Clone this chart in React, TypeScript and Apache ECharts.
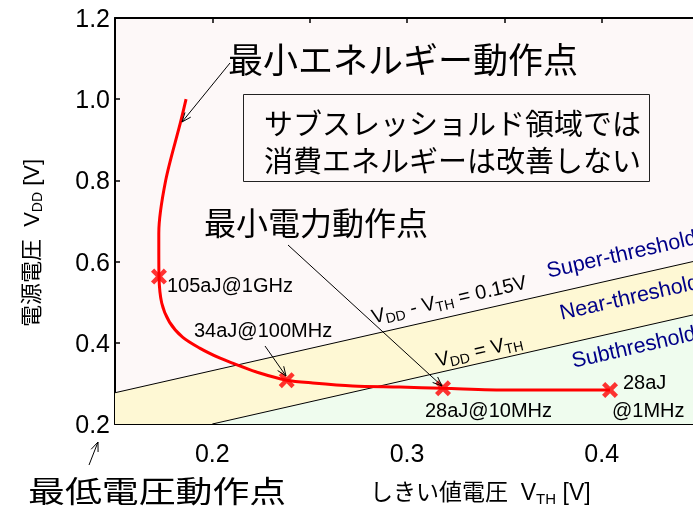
import React, { useEffect, useRef } from 'react';
import * as echarts from 'echarts';

// ---- data ----
const curveVTH = [0.1865, 0.1837, 0.176, 0.1725, 0.1725, 0.1726, 0.174, 0.178, 0.1847, 0.1935, 0.2037, 0.2104, 0.2243, 0.2382, 0.2516, 0.2721, 0.2963, 0.3185, 0.3544, 0.4043];
const curveVDD = [1.0, 0.944, 0.799, 0.67, 0.629, 0.563, 0.498, 0.451, 0.414, 0.387, 0.3626, 0.35, 0.3256, 0.308, 0.301, 0.2936, 0.291, 0.288, 0.2837, 0.2837];
const pointVTH = [0.1726, 0.2382, 0.3185, 0.4043];
const pointVDD = [0.563, 0.308, 0.288, 0.2837];
// region boundaries (V_DD - V_TH = 0.15V line and V_DD = V_TH line as drawn)
const superBoundaryVTH = [0.15, 0.45];
const superBoundaryVDD = [0.277, 0.6035];
const subBoundaryVTH = [0.2, 0.45];
const subBoundaryVDD = [0.2, 0.472];
const xTickMin = 0.15;
const xTickMax = 0.45;
const xTickStep = 0.05;
const yTickMin = 0.2;
const yTickMax = 1.2;
const yTickStep = 0.2;

const LATIN = "'Liberation Sans', Arial, 'Noto Sans CJK JP', sans-serif";
const JP = "'Noto Sans CJK JP', sans-serif";

const RED = '#ff0000';
const NAVY = '#000088';
const PINK = '#fdf8f8';
const YELLOW = '#fef8d4';
const GREEN = '#effcee';

const X_SYMBOL = 'path://M0,2L2,0L5,3L8,0L10,2L7,5L10,8L8,10L5,7L2,10L0,8L3,5Z';

function arrow(x1: number, y1: number, x2: number, y2: number) {
  const a = Math.atan2(y2 - y1, x2 - x1);
  const L = 10;
  const w = 0.38;
  const p1 = [x2 - L * Math.cos(a - w), y2 - L * Math.sin(a - w)];
  const p2 = [x2 - L * Math.cos(a + w), y2 - L * Math.sin(a + w)];
  return [
    { type: 'line', z: 100, silent: true, shape: { x1, y1, x2, y2 }, style: { stroke: '#000', lineWidth: 1 } },
    { type: 'polyline', z: 100, silent: true, shape: { points: [p1, [x2, y2], p2] }, style: { stroke: '#000', lineWidth: 1, fill: null } },
  ];
}

function txt(text: string, x: number, y: number, fontSize: number, family: string, extra: any = {}) {
  const { rotation, scaleX, fill, align, rich, lineHeight } = extra;
  return {
    type: 'text',
    z: 100,
    silent: true,
    x,
    y,
    rotation: rotation || 0,
    scaleX: scaleX || 1,
    style: {
      text,
      x: 0,
      y: 0,
      fontSize,
      fontFamily: family,
      fill: fill || '#000',
      align: align || 'left',
      textAlign: align || 'left',
      verticalAlign: 'middle',
      textVerticalAlign: 'middle',
      lineHeight,
      rich,
    },
  };
}

function subRich(base: number, sub: number, color = '#000', family = LATIN) {
  return {
    n: { fontSize: base, fontFamily: family, lineHeight: base + 4, fill: color, color },
    s: { fontSize: sub, fontFamily: family, lineHeight: sub, verticalAlign: 'bottom', fill: color, color },
  };
}

export default function App() {
  const ref = useRef<HTMLDivElement>(null);

  useEffect(() => {
    if (!ref.current) return;
    const chart = echarts.init(ref.current, undefined, { renderer: 'svg' });

    const curve = curveVTH.map((x, i) => [x, curveVDD[i]]);
    const points = pointVTH.map((x, i) => [x, pointVDD[i]]);
    const superLine = superBoundaryVTH.map((x, i) => [x, superBoundaryVDD[i]]);
    const subLine = subBoundaryVTH.map((x, i) => [x, subBoundaryVDD[i]]);
    const nearRegion = [
      [xTickMin, yTickMin],
      ...superLine,
      ...subLine.slice().reverse(),
    ];
    const subRegion = [...subLine, [xTickMax, yTickMin]];

    const regionSeries = (pts: number[][], color: string) => ({
      type: 'custom',
      coordinateSystem: 'cartesian2d',
      silent: true,
      z: 1,
      data: [[0.3, 0.5]],
      renderItem: (_p: any, api: any) => ({
        type: 'polygon',
        shape: { points: pts.map((p) => api.coord(p)) },
        style: { fill: color, stroke: null },
      }),
    });

    const xLabelFmt = (v: number) => {
      const t = v * 10;
      return Math.abs(t - Math.round(t)) < 1e-6 ? v.toFixed(1) : '';
    };

    const axisCommon = {
      type: 'value',
      axisLine: { show: true, onZero: false, lineStyle: { color: '#000', width: 2 } },
      axisTick: { show: true, inside: true, length: 5, lineStyle: { color: '#000', width: 1.5 } },
      splitLine: { show: false },
    };

    const rot = (12.8 * Math.PI) / 180;

    const graphics: any[] = [
      txt('最小エネルギー動作点', 228, 57, 35, JP),
      ...arrow(230, 63, 182, 122),
      {
        type: 'rect',
        z: 100,
        silent: true,
        shape: { x: 243.5, y: 94.5, width: 406, height: 87 },
        style: { fill: 'none', stroke: '#222', lineWidth: 1 },
      },
      txt('サブスレッショルド領域では\n消費エネルギーは改善しない', 264, 140.5, 29, JP, { lineHeight: 37 }),
      txt('最小電力動作点', 204, 221, 32, JP),
      ...arrow(288, 245, 442, 386),
      txt('105aJ@1GHz', 167, 285, 20, LATIN),
      txt('34aJ@100MHz', 194, 330, 20, LATIN),
      ...arrow(265, 346, 286, 376),
      txt('28aJ@10MHz', 425, 410, 20, LATIN),
      txt('28aJ', 623, 382, 20, LATIN),
      txt('@1MHz', 612, 410, 20, LATIN),
      txt('{n|V}{s|DD}{n| - V}{s|TH}{n| = 0.15V}', 449, 299, 20, LATIN, {
        align: 'center',
        rotation: rot,
        rich: subRich(20, 14),
      }),
      txt('{n|V}{s|DD}{n| = V}{s|TH}', 479, 350, 20, LATIN, {
        align: 'center',
        rotation: rot,
        rich: subRich(20, 14),
      }),
      txt('Super-threshold', 547, 271, 21.5, LATIN, { fill: NAVY, rotation: rot }),
      txt('Near-threshold', 560, 313, 21.5, LATIN, { fill: NAVY, rotation: rot }),
      txt('Subthreshold', 572, 361, 21.5, LATIN, { fill: NAVY, rotation: rot }),
      txt('最低電圧動作点', 28, 489, 30, JP, { scaleX: 1.23, lineHeight: 30 }),
      ...arrow(89, 465, 98, 442),
      txt('{n|しきい値電圧  V}{s|TH}{n| [V]}', 370, 492, 23, LATIN, { rich: subRich(23, 15) }),
      txt('{n|電源電圧  V}{s|DD}{n| [V]}', 31, 243, 22, LATIN, {
        align: 'center',
        rotation: Math.PI / 2,
        rich: subRich(22, 14),
      }),
    ];

    chart.setOption({
      animation: false,
      grid: {
        show: true,
        left: 115,
        top: 18,
        width: 584,
        height: 406,
        backgroundColor: PINK,
        borderWidth: 0,
        containLabel: false,
        outerBoundsMode: 'none',
      },
      xAxis: [
        {
          ...axisCommon,
          position: 'bottom',
          min: xTickMin,
          max: xTickMax,
          interval: xTickStep,
          axisLabel: {
            show: true,
            margin: 16,
            fontSize: 25,
            fontFamily: LATIN,
            color: '#000',
            formatter: xLabelFmt,
          },
        },
        {
          ...axisCommon,
          position: 'top',
          min: xTickMin,
          max: xTickMax,
          interval: xTickStep,
          axisLabel: { show: false },
        },
      ],
      yAxis: [
        {
          ...axisCommon,
          position: 'left',
          min: yTickMin,
          max: yTickMax,
          interval: yTickStep,
          axisLabel: {
            show: true,
            margin: 5,
            fontSize: 25,
            fontFamily: LATIN,
            color: '#000',
            formatter: (v: number) => v.toFixed(1),
          },
        },
      ],
      series: [
        regionSeries(nearRegion, YELLOW),
        regionSeries(subRegion, GREEN),
        {
          type: 'line',
          data: superLine,
          showSymbol: false,
          silent: true,
          z: 3,
          lineStyle: { color: '#000', width: 1 },
        },
        {
          type: 'line',
          data: subLine,
          showSymbol: false,
          silent: true,
          z: 3,
          lineStyle: { color: '#000', width: 1 },
        },
        {
          type: 'line',
          data: curve,
          smooth: 0.3,
          showSymbol: false,
          silent: true,
          z: 5,
          lineStyle: { color: RED, width: 3 },
        },
        {
          type: 'scatter',
          data: points,
          symbol: X_SYMBOL,
          symbolSize: 16,
          silent: true,
          z: 6,
          itemStyle: { color: RED },
        },
      ],
      graphic: graphics,
    });

    return () => chart.dispose();
  }, []);

  return <div ref={ref} style={{ position: 'fixed', left: 0, top: 0, width: 693, height: 510 }} />;
}
